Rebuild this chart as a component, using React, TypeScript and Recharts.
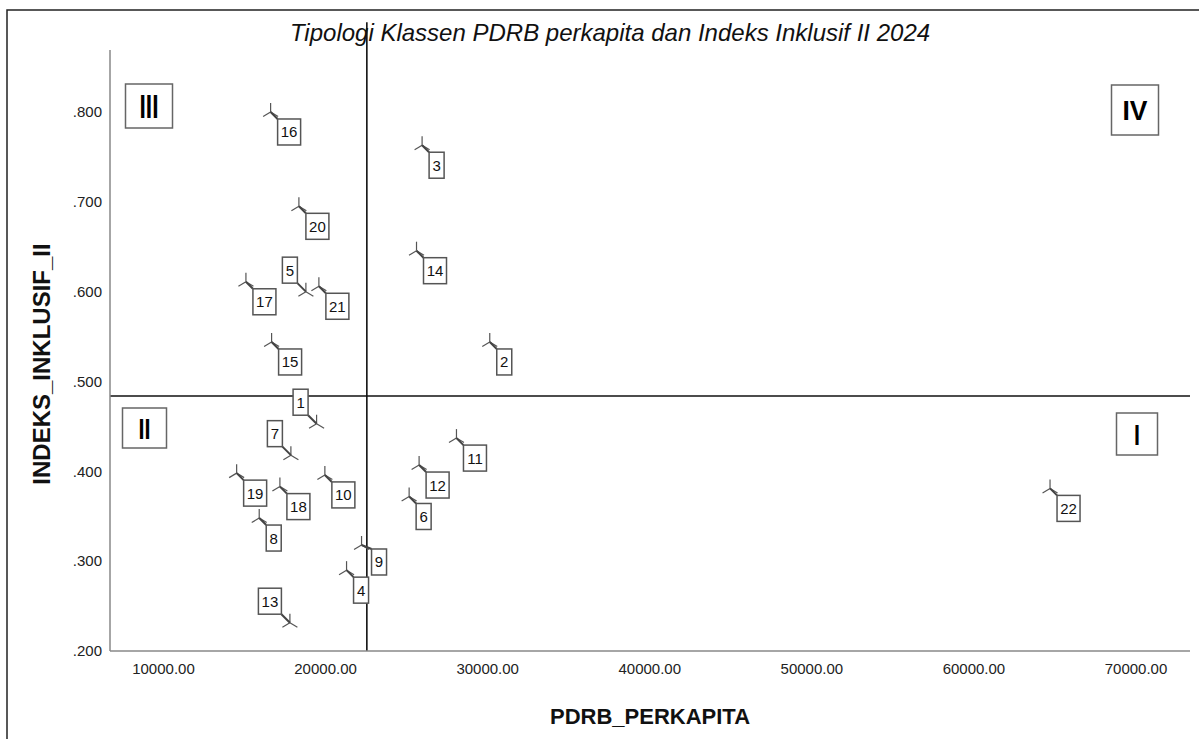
import React from "react";
import { ScatterChart, Scatter, XAxis, YAxis, ReferenceLine } from "recharts";

// ---- Data ----
const regionIds = [1, 2, 3, 4, 5, 6, 7, 8, 9, 10, 11, 12, 13, 14, 15, 16, 17, 18, 19, 20, 21, 22];
const pdrbPerkapita = [
  19445, 30129, 25955, 21294, 18785, 25155, 17860, 15906, 22219, 19956, 28075,
  25770, 17799, 25610, 16670, 16609, 15086, 17182, 14513, 18354, 19587, 64695,
];
const indeksInklusif = [
  0.453, 0.544, 0.763, 0.29, 0.6, 0.372, 0.418, 0.348, 0.318, 0.396, 0.437,
  0.407, 0.2315, 0.6456, 0.544, 0.8, 0.611, 0.383, 0.398, 0.695, 0.606, 0.381,
];
const xTicks = [10000, 20000, 30000, 40000, 50000, 60000, 70000];
const yTicks = [0.2, 0.3, 0.4, 0.5, 0.6, 0.7, 0.8];
const meanPdrb = 22546;
const meanIndeks = 0.4839;
const quadrantLabels = ["III", "IV", "II", "I"];

const points = regionIds.map((id, i) => ({ id, x: pdrbPerkapita[i], y: indeksInklusif[i] }));

// label placement style (ul = upper-left, r = right, default lower-right)
const placement: Record<number, string> = { 1: "ul", 5: "ul", 7: "ul", 13: "ul", 9: "r" };

const FONT = "'Liberation Sans', Arial, Helvetica, sans-serif";

function PointShape(props: any) {
  const { cx, cy, payload } = props;
  if (cx == null || cy == null) return null;
  const id = payload.id;
  const w = id >= 10 ? 23 : 15;
  const h = 26;
  const p = placement[id] || "lr";
  let bx: number, by: number, lx: number, ly: number;
  if (p === "ul") {
    lx = cx - 8.5;
    ly = cy - 8.5;
    bx = lx - w;
    by = ly - h;
  } else if (p === "r") {
    lx = cx + 10;
    ly = cy + 4;
    bx = lx;
    by = ly;
  } else {
    lx = cx + 7;
    ly = cy + 7;
    bx = lx;
    by = ly;
  }
  return (
    <g>
      <line x1={cx} y1={cy} x2={cx} y2={cy - 9} stroke="#555" strokeWidth={1.2} />
      <line x1={cx} y1={cy} x2={cx - 7.5} y2={cy + 4.5} stroke="#555" strokeWidth={1.2} />
      <line x1={cx} y1={cy} x2={cx + 7.5} y2={cy + 4.5} stroke="#555" strokeWidth={1.2} />
      <line x1={cx} y1={cy} x2={lx} y2={ly} stroke="#444" strokeWidth={2} />
      <rect x={bx} y={by} width={w} height={h} fill="#fff" stroke="#555" strokeWidth={1.5} />
      <text
        x={bx + w / 2}
        y={by + h / 2 + 5.5}
        textAnchor="middle"
        fontSize={15}
        fontFamily={FONT}
        fill="#111"
      >
        {id}
      </text>
    </g>
  );
}

const quadBoxes = [
  { x: 125.5, y: 84, w: 47, h: 44, fs: 34, tl: 19 },
  { x: 1111.5, y: 85, w: 47, h: 50, fs: 28, tl: 25 },
  { x: 122.5, y: 408, w: 44, h: 40, fs: 30, tl: 12 },
  { x: 1116.5, y: 413, w: 41, h: 42, fs: 30, tl: 6 },
];

export default function App() {
  return (
    <div
      style={{
        position: "absolute",
        left: 0,
        top: 0,
        width: 1199,
        height: 739,
        overflow: "hidden",
        background: "#fff",
      }}
    >
      <ScatterChart
        width={1199}
        height={739}
        margin={{ top: 50, right: 9, bottom: 58, left: 50 }}
      >
        <XAxis
          type="number"
          dataKey="x"
          domain={[6700, 73330]}
          ticks={xTicks}
          tickFormatter={(v: number) => v.toFixed(2)}
          tickLine={false}
          axisLine={{ stroke: "#888", strokeWidth: 1.5 }}
          tick={{ fontSize: 15, fill: "#222", fontFamily: FONT }}
          tickMargin={6}
          height={30}
          allowDataOverflow
        />
        <YAxis
          type="number"
          dataKey="y"
          domain={[0.2, 0.869]}
          ticks={yTicks}
          tickFormatter={(v: number) => v.toFixed(3).replace(/^0/, "")}
          tickLine={false}
          axisLine={{ stroke: "#888", strokeWidth: 1.5 }}
          tick={{ fontSize: 15, fill: "#222", fontFamily: FONT }}
          width={60}
          allowDataOverflow
        />
        <ReferenceLine
          segment={[
            { x: meanPdrb, y: 0.2 },
            { x: meanPdrb, y: 0.9 },
          ]}
          ifOverflow="visible"
          stroke="#111"
          strokeWidth={1.6}
        />
        <ReferenceLine y={meanIndeks} stroke="#111" strokeWidth={1.6} />
        <Scatter data={points} isAnimationActive={false} shape={(p: any) => <PointShape {...p} />} />
      </ScatterChart>
      <svg
        width={1199}
        height={739}
        style={{ position: "absolute", left: 0, top: 0, pointerEvents: "none" }}
      >
        <rect x={7} y={10} width={1300} height={900} fill="none" stroke="#222" strokeWidth={1.5} />
        <text
          x={610}
          y={41}
          textAnchor="middle"
          fontSize={24}
          fontStyle="italic"
          fontFamily={FONT}
          fill="#111"
        >
          Tipologi Klassen PDRB perkapita dan Indeks Inklusif II 2024
        </text>
        <text
          x={650}
          y={724}
          textAnchor="middle"
          fontSize={22}
          fontWeight="bold"
          fontFamily={FONT}
          fill="#111"
        >
          PDRB_PERKAPITA
        </text>
        <text
          x={50}
          y={364}
          textAnchor="middle"
          fontSize={24}
          fontWeight="bold"
          fontFamily={FONT}
          fill="#111"
          transform="rotate(-90 50 364)"
        >
          INDEKS_INKLUSIF_II
        </text>
        {quadBoxes.map((b, i) => (
          <g key={i}>
            <rect x={b.x} y={b.y} width={b.w} height={b.h} fill="#fff" stroke="#666" strokeWidth={1.5} />
            <text
              x={b.x + b.w / 2}
              y={b.y + b.h / 2 + b.fs * 0.358}
              textAnchor="middle"
              fontSize={b.fs}
              fontWeight="bold"
              fontFamily={FONT}
              fill="#000"
              textLength={b.tl}
              lengthAdjust="spacingAndGlyphs"
            >
              {quadrantLabels[i]}
            </text>
          </g>
        ))}
      </svg>
    </div>
  );
}
